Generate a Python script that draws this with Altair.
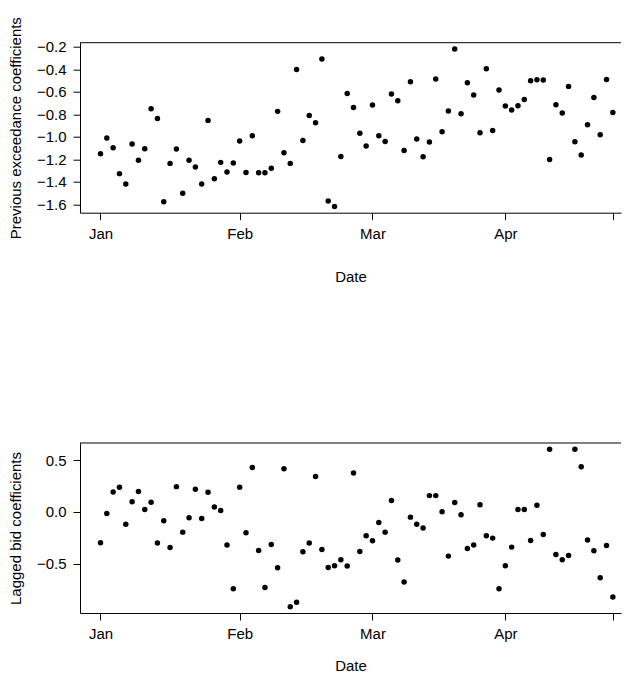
import altair as alt
import pandas as pd

# trading-day index (x), 82 observations
idx = list(range(1, 83))

prev_exceed = [
    -1.150, -1.011, -1.097, -1.327, -1.419, -1.064, -1.209, -1.106, -0.750, -0.837,
    -1.576, -1.236, -1.108, -1.502, -1.209, -1.268, -1.419, -0.854, -1.372, -1.227,
    -1.312, -1.232, -1.037, -1.316, -0.990, -1.319, -1.319, -1.280, -0.774, -1.141,
    -1.236, -0.402, -1.032, -0.810, -0.875, -0.309, -1.570, -1.618, -1.174, -0.615,
    -0.739, -0.968, -1.082, -0.718, -0.990, -1.041, -0.620, -0.679, -1.121, -0.511,
    -1.019, -1.177, -1.046, -0.487, -0.955, -0.771, -0.220, -0.795, -0.520, -0.629,
    -0.963, -0.395, -0.943, -0.584, -0.726, -0.762, -0.724, -0.668, -0.502, -0.493,
    -0.496, -1.201, -0.715, -0.789, -0.552, -1.043, -1.161, -0.892, -0.650, -0.981,
    -0.490, -0.783,
]

lagged_bid = [
    -0.299, -0.016, 0.193, 0.238, -0.119, 0.097, 0.196, 0.022, 0.094, -0.302,
    -0.087, -0.345, 0.244, -0.196, -0.058, 0.219, -0.065, 0.190, 0.048, 0.013,
    -0.321, -0.743, 0.238, -0.203, 0.428, -0.374, -0.731, -0.316, -0.541, 0.418,
    -0.917, -0.875, -0.386, -0.302, 0.341, -0.364, -0.538, -0.521, -0.463, -0.524,
    0.376, -0.383, -0.232, -0.280, -0.103, -0.196, 0.109, -0.466, -0.679, -0.051,
    -0.119, -0.157, 0.157, 0.157, 0.000, -0.428, 0.090, -0.029, -0.354, -0.321,
    0.068, -0.232, -0.254, -0.743, -0.521, -0.341, 0.022, 0.022, -0.277, 0.065,
    -0.219, 0.605, -0.412, -0.463, -0.422, 0.605, 0.437, -0.273, -0.376, -0.637,
    -0.325, -0.823,
]

tick_idx = [1, 23, 44, 65, 82]
tick_lab = ["Jan", "Feb", "Mar", "Apr", ""]

top_ticks = [-1.6, -1.4, -1.2, -1.0, -0.8, -0.6, -0.4, -0.2]
bot_ticks = [-0.5, 0.0, 0.5]

df = pd.DataFrame({"idx": idx, "prev": prev_exceed, "lag": lagged_bid})
frame_df = pd.DataFrame({"f": [0]})

label_expr = " : ".join(
    f"datum.value == {v} ? '{l}'" for v, l in zip(tick_idx, tick_lab)
) + " : ''"

FONT = "Liberation Sans"
FS = 15
TXT = dict(
    labelFont=FONT,
    titleFont=FONT,
    labelFontSize=FS,
    titleFontSize=FS,
    titleFontWeight="normal",
    labelColor="black",
    titleColor="black",
    domainColor="black",
    tickColor="black",
    domainWidth=1,
    tickWidth=1,
    grid=False,
)

PLOT_W = 541
x_scale = alt.Scale(domain=[-2.24, -2.24 + PLOT_W / 6.3255], nice=False, zero=False)


def panel(field, title, domain, ticks, x_title_pad):
    pts = alt.Chart(df).mark_circle(size=30, color="black", opacity=1).encode(
        x=alt.X(
            "idx:Q",
            scale=x_scale,
            axis=alt.Axis(
                values=tick_idx,
                labelExpr=label_expr,
                title="Date",
                tickSize=7,
                labelPadding=7,
                titlePadding=x_title_pad,
                labelFlush=False,
                labelOverlap=False,
                **TXT,
            ),
        ),
        y=alt.Y(
            f"{field}:Q",
            scale=alt.Scale(domain=domain, nice=False, zero=False),
            axis=alt.Axis(
                values=ticks,
                format=".1f",
                title=title,
                tickSize=7,
                labelPadding=7,
                titlePadding=13,
                labelFlush=False,
                labelOverlap=False,
                **TXT,
            ),
        ),
    )
    # top frame line (the reference box is cropped on the right)
    frame = alt.Chart(frame_df).mark_rule(color="black", strokeWidth=1).encode(
        y=alt.value(0)
    )
    return alt.layer(pts, frame).properties(width=PLOT_W, height=170)


top = panel("prev", "Previous exceedance coefficients", [-1.674, -0.164], top_ticks, 28)
bottom = panel("lag", "Lagged bid coefficients", [-0.978, 0.666], bot_ticks, 16.5)

chart = (
    alt.vconcat(top, bottom, spacing=157.3)
    .properties(
        padding={"left": 0, "top": 7.7, "right": 0, "bottom": 0},
        background="white",
    )
    .configure_view(stroke=None)
)

chart.save("out.html", embed_options={"renderer": "svg", "actions": False})
